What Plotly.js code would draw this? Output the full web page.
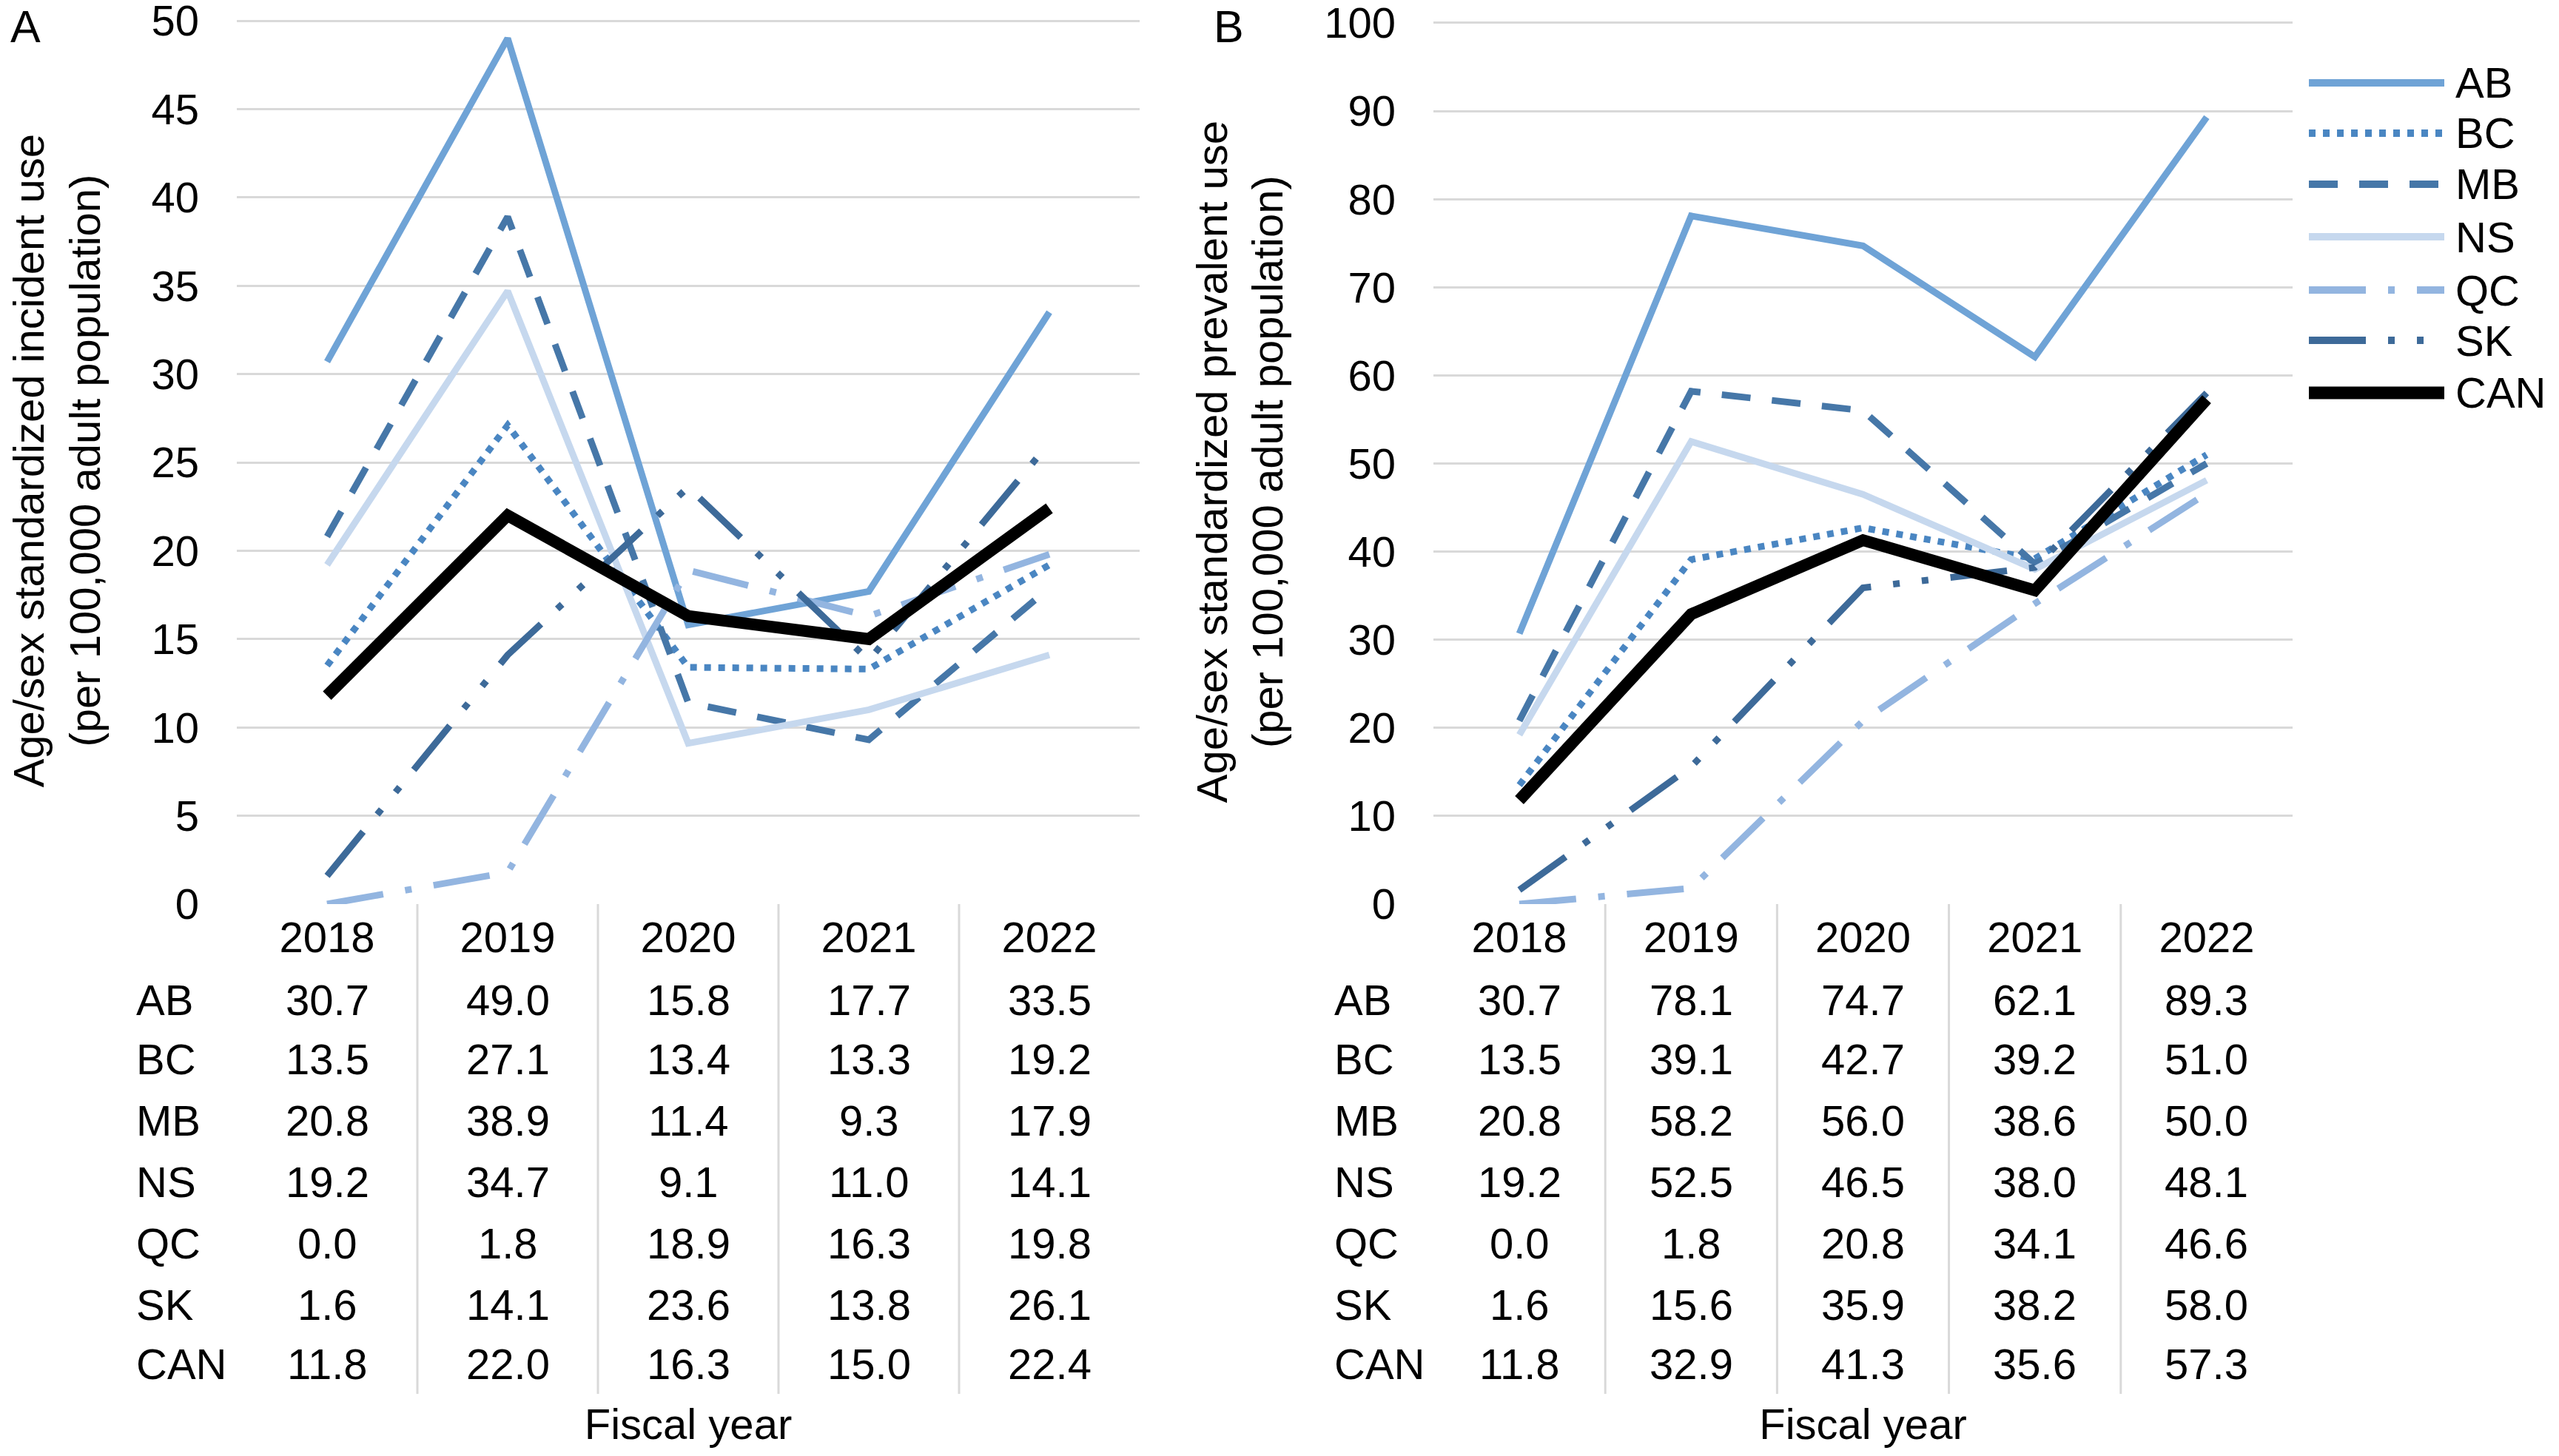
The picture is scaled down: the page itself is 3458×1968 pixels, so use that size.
<!DOCTYPE html>
<html><head><meta charset="utf-8">
<script src="https://cdn.plot.ly/plotly-3.0.1.min.js"></script>
<style>html,body{margin:0;padding:0;background:#fff}</style>
</head><body><div id="chart" style="width:3458px;height:1968px"></div>
<script>
// ---------- data ----------
const years = ['2018', '2019', '2020', '2021', '2022'];
const regions = ['AB', 'BC', 'MB', 'NS', 'QC', 'SK', 'CAN'];

// Panel A: age/sex standardized incident use (per 100,000 adult population)
const incidentAB  = [30.7, 49.0, 15.8, 17.7, 33.5];
const incidentBC  = [13.5, 27.1, 13.4, 13.3, 19.2];
const incidentMB  = [20.8, 38.9, 11.4, 9.3, 17.9];
const incidentNS  = [19.2, 34.7, 9.1, 11.0, 14.1];
const incidentQC  = [0.0, 1.8, 18.9, 16.3, 19.8];
const incidentSK  = [1.6, 14.1, 23.6, 13.8, 26.1];
const incidentCAN = [11.8, 22.0, 16.3, 15.0, 22.4];

// Panel B: age/sex standardized prevalent use (per 100,000 adult population)
const prevalentAB  = [30.7, 78.1, 74.7, 62.1, 89.3];
const prevalentBC  = [13.5, 39.1, 42.7, 39.2, 51.0];
const prevalentMB  = [20.8, 58.2, 56.0, 38.6, 50.0];
const prevalentNS  = [19.2, 52.5, 46.5, 38.0, 48.1];
const prevalentQC  = [0.0, 1.8, 20.8, 34.1, 46.6];
const prevalentSK  = [1.6, 15.6, 35.9, 38.2, 58.0];
const prevalentCAN = [11.8, 32.9, 41.3, 35.6, 57.3];

const incident = [incidentAB, incidentBC, incidentMB, incidentNS, incidentQC, incidentSK, incidentCAN];
const prevalent = [prevalentAB, prevalentBC, prevalentMB, prevalentNS, prevalentQC, prevalentSK, prevalentCAN];

// ---------- styles ----------
const W = 3458, H = 1968;
const px = v => v / W;            // pixel -> paper x
const py = v => 1 - v / H;        // pixel (from top) -> paper y
const FONT = 'Liberation Sans, Arial, sans-serif';
const FS = 58;
const GRID = '#D9D9D9';
const PAD = 1.004;                // small headroom so the top gridline is kept
const styles = {
  AB:  {color: '#6FA3D6', width: 9,  dash: 'solid'},
  BC:  {color: '#4A86C2', width: 9,  dash: '9px,10px'},
  MB:  {color: '#4677A8', width: 9,  dash: '39px,29px'},
  NS:  {color: '#C6D8EE', width: 9,  dash: 'solid'},
  QC:  {color: '#93B5E0', width: 9,  dash: '77px,30px,9px,30px'},
  SK:  {color: '#3D6A99', width: 9,  dash: '77px,30px,9px,30px,9px,30px'},
  CAN: {color: '#000000', width: 16, dash: 'solid'}
};

const traces = [];
function addPanel(values, xa, ya) {
  regions.forEach((r, i) => {
    const s = styles[r];
    traces.push({
      type: 'scatter', mode: 'lines', name: r, x: years, y: values[i],
      xaxis: xa, yaxis: ya, showlegend: false, cliponaxis: false,
      line: {color: s.color, width: s.width, dash: s.dash}
    });
  });
}
addPanel(incident, 'x', 'y');
addPanel(prevalent, 'x2', 'y2');

// ---------- table & annotations ----------
const rowY = [1351, 1431, 1514, 1597, 1680, 1763, 1843];
const annotations = [];
const shapes = [];
function addTable(values, xref, labelX) {
  regions.forEach((r, i) => {
    annotations.push({xref: 'paper', yref: 'paper', x: px(labelX), y: py(rowY[i]),
      xanchor: 'left', yanchor: 'middle', text: r, showarrow: false,
      font: {family: FONT, size: FS, color: '#000'}});
    values[i].forEach((v, j) => {
      annotations.push({xref: xref, yref: 'paper', x: j, y: py(rowY[i]),
        xanchor: 'center', yanchor: 'middle', text: v.toFixed(1), showarrow: false,
        font: {family: FONT, size: FS, color: '#000'}});
    });
  });
  for (let k = 0; k < years.length - 1; k++) {
    shapes.push({type: 'line', xref: xref, yref: 'paper', x0: k + 0.5, x1: k + 0.5,
      y0: py(1222), y1: py(1884), line: {color: GRID, width: 3}});
  }
}
addTable(incident, 'x', 182);
addTable(prevalent, 'x2', 1801);

// panel letters
annotations.push({xref: 'paper', yref: 'paper', x: px(12), y: 1, xanchor: 'left', yanchor: 'top',
  text: 'A', showarrow: false, font: {family: FONT, size: 61, color: '#000'}});
annotations.push({xref: 'paper', yref: 'paper', x: px(1638), y: 1, xanchor: 'left', yanchor: 'top',
  text: 'B', showarrow: false, font: {family: FONT, size: 61, color: '#000'}});

// custom legend (long line samples)
const legY = [112, 180, 249, 320, 392, 460, 531];
regions.forEach((r, i) => {
  const s = styles[r];
  shapes.push({type: 'line', xref: 'paper', yref: 'paper', x0: px(3120), x1: px(3303),
    y0: py(legY[i]), y1: py(legY[i]), line: {color: s.color, width: s.width + 1, dash: s.dash}});
  annotations.push({xref: 'paper', yref: 'paper', x: px(3316), y: py(legY[i]), xanchor: 'left',
    yanchor: 'middle', text: r, showarrow: false, font: {family: FONT, size: FS, color: '#000'}});
});

// ---------- axes ----------
function xAxis(domain) {
  return {
    domain: domain, type: 'category', categoryarray: years, range: [-0.5, 4.5],
    showgrid: false, zeroline: false, showline: false, ticks: '',
    tickfont: {family: FONT, size: FS, color: '#000'}, ticklabelstandoff: 6,
    title: {text: 'Fiscal year', font: {family: FONT, size: FS, color: '#000'}, standoff: 606},
    fixedrange: true
  };
}
// zeroPx/topPx: pixel rows of 0 and of the top tick in the reference
function yAxis(zeroPx, topPx, max, dtick, title, standoff, anchor) {
  const topDomainPx = zeroPx - (zeroPx - topPx) * PAD;
  return {
    domain: [py(zeroPx), py(topDomainPx)], range: [0, max * PAD], dtick: dtick, tick0: 0, anchor: anchor,
    showgrid: true, gridcolor: GRID, gridwidth: 3, zeroline: false, showline: false, ticks: '',
    tickfont: {family: FONT, size: FS, color: '#000'}, ticklabelstandoff: 50,
    ticklabeloverflow: 'allow',
    title: {text: title, font: {family: FONT, size: FS, color: '#000'}, standoff: standoff},
    fixedrange: true
  };
}

const layout = {
  width: W, height: H, margin: {l: 0, r: 0, t: 0, b: 0},
  paper_bgcolor: '#fff', plot_bgcolor: '#fff', showlegend: false,
  font: {family: FONT, size: FS, color: '#000'},
  xaxis: Object.assign(xAxis([px(320), px(1540)]), {anchor: 'y'}),
  yaxis: yAxis(1222, 28, 50, 5,
    'Age/sex standardized incident use<br>(per 100,000 adult population)', 50, 'x'),
  xaxis2: Object.assign(xAxis([px(1937), px(3098)]), {anchor: 'y2'}),
  yaxis2: yAxis(1222, 31, 100, 10,
    'Age/sex standardized prevalent use<br>(per 100,000 adult population)', 36, 'x2'),
  annotations: annotations, shapes: shapes
};

Plotly.newPlot('chart', traces, layout, {displayModeBar: false, staticPlot: true});
</script></body></html>
